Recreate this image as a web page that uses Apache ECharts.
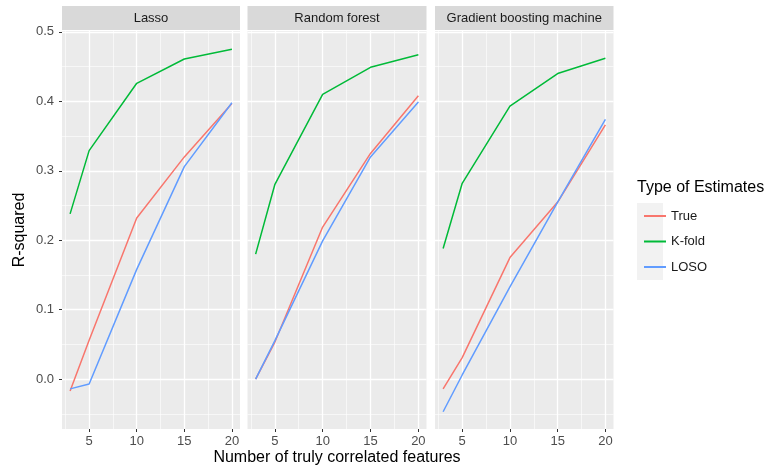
<!DOCTYPE html>
<html>
<head>
<meta charset="utf-8">
<script src="https://cdn.jsdelivr.net/npm/echarts@6/dist/echarts.min.js"></script>
<style>
  html, body { margin: 0; padding: 0; background: #ffffff; }
  #chart { width: 765px; height: 470px; }
</style>
</head>
<body>
<div id="chart"></div>
<script>
// Number of truly correlated features (x) and R-squared estimates per model
const xValues = [3, 5, 10, 15, 20];

const panelTitles = ['Lasso', 'Random forest', 'Gradient boosting machine'];
const seriesNames = ['True', 'K-fold', 'LOSO'];

const lassoTrue  = [-0.017, 0.056, 0.232, 0.320, 0.397];
const lassoKfold = [0.238, 0.329, 0.426, 0.461, 0.475];
const lassoLoso  = [-0.014, -0.007, 0.158, 0.306, 0.398];

const rfTrue  = [0.000, 0.053, 0.219, 0.325, 0.408];
const rfKfold = [0.180, 0.280, 0.410, 0.449, 0.467];
const rfLoso  = [0.000, 0.055, 0.199, 0.320, 0.399];

const gbmTrue  = [-0.014, 0.031, 0.175, 0.255, 0.366];
const gbmKfold = [0.188, 0.282, 0.393, 0.440, 0.462];
const gbmLoso  = [-0.047, 0.006, 0.133, 0.255, 0.374];

const xTicks = [5, 10, 15, 20];
const xMinor = [2.5, 7.5, 12.5, 17.5];
const yTicks = [0, 0.1, 0.2, 0.3, 0.4, 0.5];
const yMinor = [-0.05, 0.05, 0.15, 0.25, 0.35, 0.45];

const panelData = [
  [lassoTrue, lassoKfold, lassoLoso],
  [rfTrue, rfKfold, rfLoso],
  [gbmTrue, gbmKfold, gbmLoso]
];

const colors = ['#F8766D', '#00BA38', '#619CFF'];
const FONT = 'Liberation Sans, Arial, sans-serif';

// panel layout
const panels = [
  { left: 62, width: 178 },
  { left: 247.5, width: 179 },
  { left: 435, width: 178.5 }
];
const panelTop = 31, panelHeight = 398;
const stripTop = 6, stripHeight = 24;

const X_MIN = 2.15, X_MAX = 20.85;
const Y_MIN = -0.0718, Y_MAX = 0.5013;

const grid = [], xAxis = [], yAxis = [], series = [], graphic = [];

panels.forEach((p, i) => {
  grid.push({
    left: p.left, top: panelTop, width: p.width, height: panelHeight,
    show: true, backgroundColor: '#EBEBEB', borderWidth: 0, containLabel: false
  });

  // major x
  xAxis.push({
    type: 'value', gridIndex: i, position: 'bottom', min: X_MIN, max: X_MAX,
    axisLine: { show: false, onZero: false },
    axisTick: { show: true, customValues: xTicks, length: 3, lineStyle: { color: '#333333', width: 1 } },
    axisLabel: { show: true, customValues: xTicks, color: '#4D4D4D', fontSize: 13, fontFamily: FONT, margin: 6 },
    splitLine: { show: true, lineStyle: { color: '#FFFFFF', width: 1.3 } }
  });
  // minor x
  xAxis.push({
    type: 'value', gridIndex: i, position: 'top', min: X_MIN, max: X_MAX,
    axisLine: { show: false, onZero: false },
    axisTick: { show: false, customValues: xMinor },
    axisLabel: { show: false, customValues: xMinor },
    splitLine: { show: true, lineStyle: { color: '#FFFFFF', width: 0.6 } }
  });
  // major y
  yAxis.push({
    type: 'value', gridIndex: i, position: 'left', min: Y_MIN, max: Y_MAX,
    axisLine: { show: false, onZero: false },
    axisTick: { show: i === 0, customValues: yTicks, length: 3, lineStyle: { color: '#333333', width: 1 } },
    axisLabel: {
      show: i === 0, customValues: yTicks, color: '#4D4D4D', fontSize: 13, fontFamily: FONT, margin: 8,
      formatter: v => v.toFixed(1)
    },
    splitLine: { show: true, lineStyle: { color: '#FFFFFF', width: 1.3 } }
  });
  // minor y
  yAxis.push({
    type: 'value', gridIndex: i, position: 'right', min: Y_MIN, max: Y_MAX,
    axisLine: { show: false, onZero: false },
    axisTick: { show: false, customValues: yMinor },
    axisLabel: { show: false, customValues: yMinor },
    splitLine: { show: true, lineStyle: { color: '#FFFFFF', width: 0.6 } }
  });

  panelData[i].forEach((vals, k) => {
    series.push({
      name: seriesNames[k],
      type: 'line',
      xAxisIndex: i * 2,
      yAxisIndex: i * 2,
      data: xValues.map((x, j) => [x, vals[j]]),
      symbol: 'none',
      silent: true,
      lineStyle: { color: colors[k], width: 1.5 },
      itemStyle: { color: colors[k] },
      z: 3 + k
    });
  });

  // facet strip
  graphic.push({
    type: 'rect',
    shape: { x: p.left, y: stripTop, width: p.width, height: stripHeight },
    style: { fill: '#D9D9D9' },
    silent: true
  });
  graphic.push({
    type: 'text',
    x: p.left + p.width / 2, y: stripTop + stripHeight / 2,
    style: {
      text: panelTitles[i], fill: '#1A1A1A', font: '13px ' + FONT,
      align: 'center', verticalAlign: 'middle'
    },
    silent: true
  });
});

// axis titles
graphic.push({
  type: 'text', x: 337, y: 458,
  style: { text: 'Number of truly correlated features', fill: '#000000', font: '16px ' + FONT, align: 'center', verticalAlign: 'middle' },
  silent: true
});
graphic.push({
  type: 'text', x: 20, y: 230, rotation: Math.PI / 2,
  style: { text: 'R-squared', fill: '#000000', font: '16px ' + FONT, align: 'center', verticalAlign: 'middle' },
  silent: true
});

// legend title and key background
graphic.push({
  type: 'text', x: 637, y: 188,
  style: { text: 'Type of Estimates', fill: '#000000', font: '16px ' + FONT, align: 'left', verticalAlign: 'middle' },
  silent: true
});
graphic.push({
  type: 'rect',
  shape: { x: 637, y: 203, width: 26, height: 77 },
  style: { fill: '#F2F2F2' },
  silent: true, z: -1
});

const option = {
  animation: false,
  backgroundColor: '#FFFFFF',
  grid, xAxis, yAxis, series, graphic,
  legend: {
    data: seriesNames.map((n, k) => ({ name: n, icon: 'rect', itemStyle: { color: colors[k] } })),
    orient: 'vertical',
    left: 639, top: 204,
    itemWidth: 22, itemHeight: 2,
    itemGap: 11.5,
    selectedMode: false,
    textStyle: { color: '#1A1A1A', fontSize: 13, fontFamily: FONT, lineHeight: 14, padding: [0, 0, 0, 0] }
  }
};

const chart = echarts.init(document.getElementById('chart'), null, { renderer: 'canvas' });
chart.setOption(option);
</script>
</body>
</html>
